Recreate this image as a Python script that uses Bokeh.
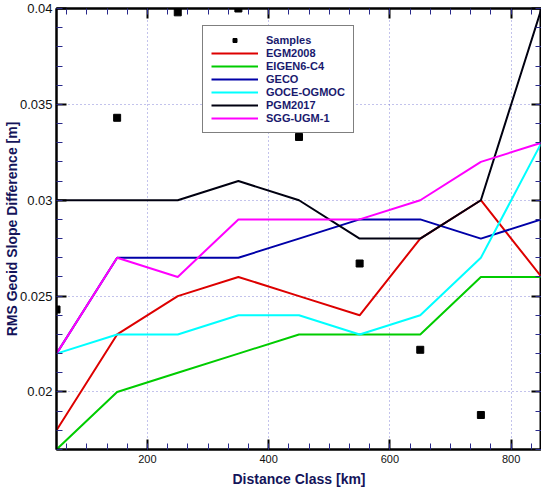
from bokeh.plotting import figure
from bokeh.models import (Range1d, LinearAxis, Legend, LegendItem,
                          SingleIntervalTicker, CustomJSTickFormatter)
from bokeh.embed import file_html
from bokeh.resources import INLINE

# ---- data ----
distance = [50, 150, 250, 350, 450, 550, 650, 750, 850]
sample_distance = [50, 150, 250, 350, 450, 550, 650, 750, 850]
samples = [0.0243, 0.0343, 0.0398, 0.0400, 0.0333, 0.0267, 0.0222, 0.0188, 0.0168]

egm2008 = [0.018, 0.023, 0.025, 0.026, 0.025, 0.024, 0.028, 0.030, 0.026]
eigen6c4 = [0.017, 0.020, 0.021, 0.022, 0.023, 0.023, 0.023, 0.026, 0.026]
geco = [0.022, 0.027, 0.027, 0.027, 0.028, 0.029, 0.029, 0.028, 0.029]
goce_ogmoc = [0.022, 0.023, 0.023, 0.024, 0.024, 0.023, 0.024, 0.027, 0.033]
pgm2017 = [0.030, 0.030, 0.030, 0.031, 0.030, 0.028, 0.028, 0.030, 0.040]
sgg_ugm1 = [0.022, 0.027, 0.026, 0.029, 0.029, 0.029, 0.030, 0.032, 0.033]

series_names = ["EGM2008", "EIGEN6-C4", "GECO", "GOCE-OGMOC", "PGM2017", "SGG-UGM-1"]
series_values = [egm2008, eigen6c4, geco, goce_ogmoc, pgm2017, sgg_ugm1]
series_colors = ["#dd0000", "#00cc00", "#0000a8", "#00ffff", "#000010", "#ff00ff"]

FONT = "Liberation Sans"
TITLE_COLOR = "#14145a"

p = figure(width=541, height=490, output_backend="svg", toolbar_location=None,
           x_range=Range1d(50, 850), y_range=Range1d(0.017, 0.040),
           min_border_left=56, min_border_right=0, min_border_top=8,
           min_border_bottom=41, x_axis_label="Distance Class [km]",
           y_axis_label="RMS Geoid Slope Difference [m]")
p.outline_line_color = "black"
p.outline_line_width = 2
p.background_fill_color = "white"
p.border_fill_color = "white"

xt = SingleIntervalTicker(interval=200, num_minor_ticks=6)
yt = SingleIntervalTicker(interval=0.005, num_minor_ticks=5)
p.xaxis.ticker = xt
p.yaxis.ticker = yt
p.yaxis.formatter = CustomJSTickFormatter(code="return String(Number(tick.toFixed(4)));")

# mirrored axes (ticks only, no labels)
blank = CustomJSTickFormatter(code="return '';")
top = LinearAxis(ticker=xt, formatter=blank, major_label_standoff=0)
right = LinearAxis(ticker=yt, formatter=blank, major_label_standoff=0)
p.add_layout(top, "above")
p.add_layout(right, "right")

for ax in p.axis:
    ax.axis_line_width = 2
    ax.axis_line_color = "black"
    ax.major_tick_in = 10
    ax.major_tick_out = 0
    ax.minor_tick_in = 6
    ax.minor_tick_out = 0
    ax.major_tick_line_width = 2
    ax.major_tick_line_color = "black"
    ax.minor_tick_line_color = "#2a2a8a"
    ax.minor_tick_line_width = 1
    ax.major_label_text_font = FONT
    ax.major_label_text_color = "#111111"
    ax.axis_label_text_font = FONT
    ax.axis_label_text_font_style = "bold"
    ax.axis_label_text_font_size = "14px"
    ax.axis_label_text_color = TITLE_COLOR

p.xaxis[0].major_label_text_font_size = "13px"
p.yaxis[0].major_label_text_font_size = "13px"
p.xaxis[0].major_label_standoff = 4
p.xaxis[0].axis_label_standoff = -4
p.yaxis[0].major_label_standoff = 4
p.yaxis[0].axis_label_standoff = -3

p.grid.grid_line_color = "#6a6ad0"
p.grid.grid_line_dash = "1 3"
p.grid.grid_line_width = 1
p.grid.grid_line_alpha = 0.8

items = []
r_s = p.scatter(sample_distance, samples, marker="square", size=7,
                fill_color="black", line_color="black")
items.append(LegendItem(label="Samples", renderers=[r_s]))
for name, vals, col in zip(series_names, series_values, series_colors):
    r = p.line(distance, vals, line_color=col, line_width=2)
    items.append(LegendItem(label=name, renderers=[r]))

legend = Legend(items=items, location=(146, 316), padding=8, spacing=1,
                label_height=10, glyph_height=10, glyph_width=47,
                label_standoff=8, label_text_font=FONT,
                label_text_font_style="bold", label_text_font_size="11px",
                label_text_color="#1a1a6e", border_line_color="black",
                border_line_width=1, background_fill_color="white",
                background_fill_alpha=1.0, margin=0)
p.add_layout(legend, "center")

open("out.html", "w").write(file_html(p, INLINE))
